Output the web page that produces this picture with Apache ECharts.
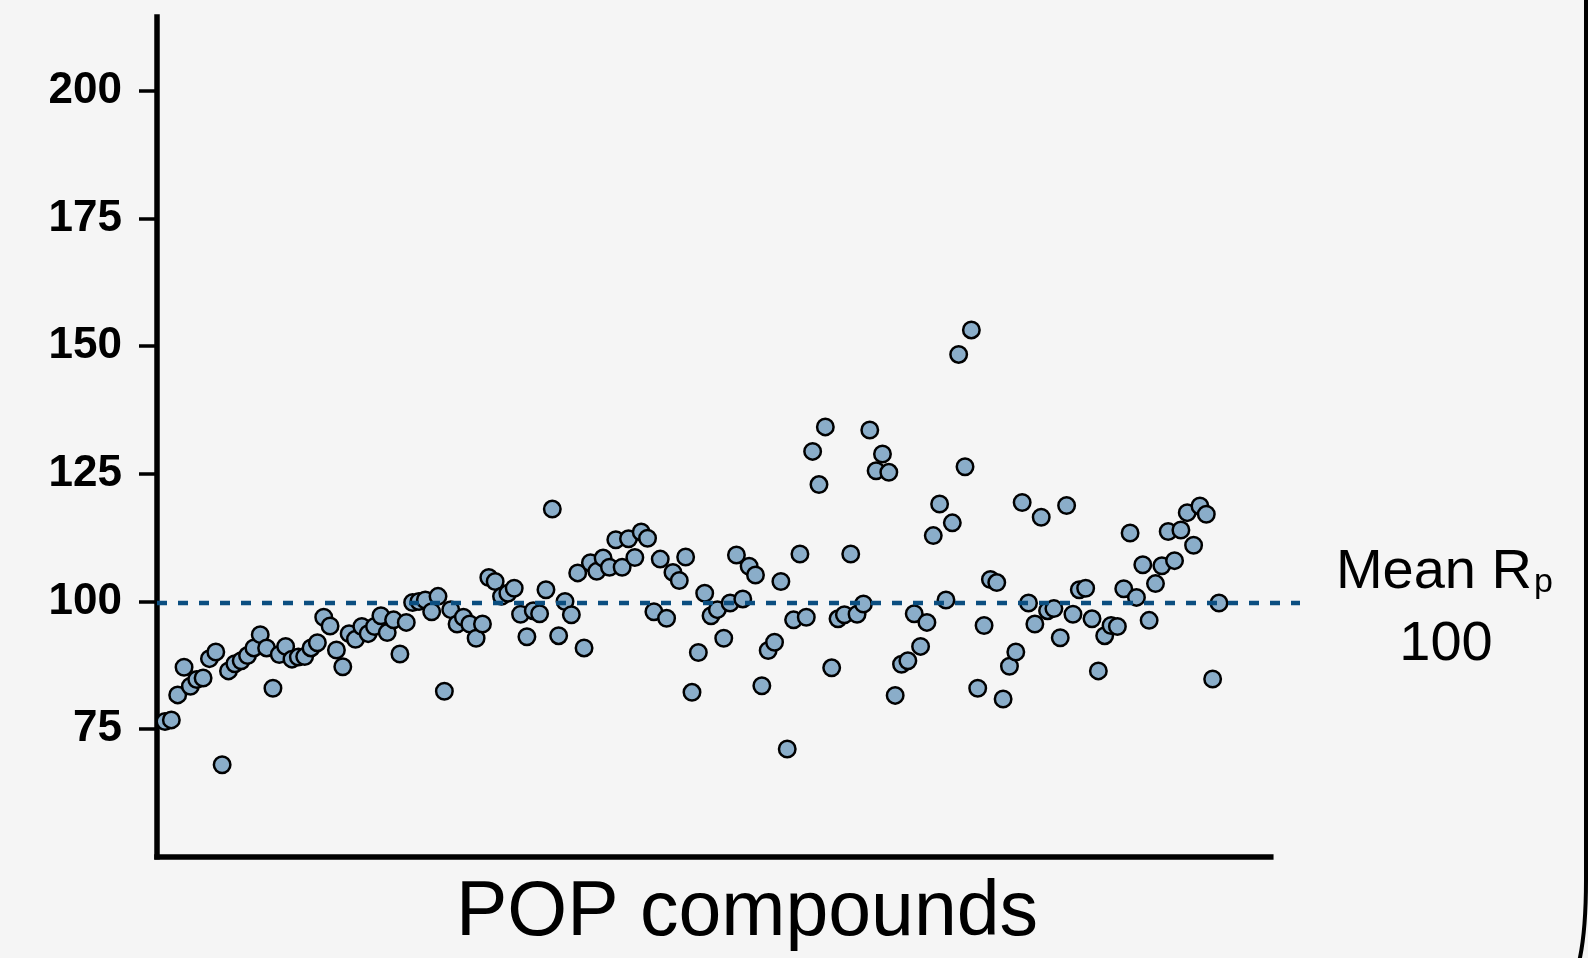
<!DOCTYPE html>
<html>
<head>
<meta charset="utf-8">
<title>POP compounds</title>
<script src="https://cdn.jsdelivr.net/npm/echarts@6/dist/echarts.min.js"></script>
<style>
  html, body { margin: 0; padding: 0; background: #f5f5f5; }
  #chart { width: 1588px; height: 958px; }
</style>
</head>
<body>
<div id="chart"></div>
<script>
  // Rp value of each POP compound, in plotted order (left to right)
  const rpValues = [
    76.5, 76.8, 81.7, 87.1, 83.4, 84.7, 85.0, 88.8, 90.1, 68.0,
    86.4, 87.8, 88.4, 89.4, 90.9, 93.5, 90.9, 83.0, 89.6, 91.2,
    88.7, 89.1, 89.2, 90.9, 91.9, 96.9, 95.2, 90.5, 87.2, 93.7,
    92.6, 95.1, 93.7, 95.1, 97.2, 93.9, 96.4, 89.7, 95.9, 99.8,
    100.0, 100.3, 98.0, 101.0, 82.4, 98.4, 95.6, 96.9, 95.6, 92.8,
    95.6, 104.7, 103.9, 101.0, 101.6, 102.6, 97.5, 93.1, 98.2, 97.6,
    102.3, 118.1, 93.3, 100.0, 97.4, 105.6, 90.9, 107.6, 105.9, 108.5,
    106.7, 112.1, 106.7, 112.3, 108.6, 113.6, 112.4, 98.0, 108.3, 96.7,
    105.7, 104.1, 108.7, 82.2, 90.0, 101.6, 97.2, 98.4, 92.8, 99.7,
    109.1, 100.5, 106.9, 105.2, 83.5, 90.4, 92.0, 103.9, 71.1, 96.4,
    109.3, 96.9, 129.4, 122.9, 134.2, 87.0, 96.6, 97.4, 109.3, 97.5,
    99.5, 133.6, 125.6, 128.9, 125.3, 81.6, 87.7, 88.4, 97.6, 91.2,
    95.9, 112.9, 119.1, 100.3, 115.4, 148.4, 126.4, 153.2, 83.0, 95.3,
    104.3, 103.7, 80.9, 87.3, 90.1, 119.4, 99.7, 95.6, 116.5, 98.2,
    98.6, 92.9, 118.8, 97.5, 102.3, 102.6, 96.6, 86.4, 93.3, 95.3,
    95.1, 102.5, 113.4, 100.8, 107.2, 96.3, 103.5, 107.0, 113.7, 108.0,
    114.0, 117.4, 111.0, 118.7, 117.1, 84.8, 99.7
  ]
  const yTicks = [75, 100, 125, 150, 175, 200]
  const meanRp = 99.7
  const meanLabel = '100'
  const xTitle = 'POP compounds'

  const points = rpValues.map((v, i) => [i, v])

  var myChart = echarts.init(document.getElementById('chart'))
  var option = {
    backgroundColor: '#f5f5f5',
    animation: false,
    grid: [
      // main plot
      { left: 157, top: 17, width: 1113.8, bottom: 101.3 },
      // same y scale, a bit wider, for the mean line
      { left: 157, top: 17, right: 288, bottom: 101.3 }
    ],
    xAxis: [
      {
        type: 'value',
        gridIndex: 0,
        min: -1.26,
        max: 174.16,
        axisLine: { onZero: false, lineStyle: { color: '#000', width: 5.5, cap: 'square' } },
        axisTick: { show: false },
        axisLabel: { show: false },
        splitLine: { show: false }
      },
      { type: 'value', gridIndex: 1, min: 0, max: 1, show: false }
    ],
    yAxis: [
      {
        type: 'value',
        gridIndex: 0,
        min: 50,
        max: 214.5,
        interval: 25,
        axisLine: { show: true, onZero: false, lineStyle: { color: '#000', width: 5.5, cap: 'square' } },
        axisTick: {
          show: true,
          length: 18,
          customValues: yTicks,
          lineStyle: { color: '#000', width: 3.5 }
        },
        axisLabel: {
          customValues: yTicks,
          margin: 35,
          color: '#000',
          fontFamily: 'Liberation Sans',
          fontWeight: 'bold',
          fontSize: 44
        },
        splitLine: { show: false }
      },
      { type: 'value', gridIndex: 1, min: 50, max: 214.5, show: false }
    ],
    series: [
      {
        type: 'scatter',
        xAxisIndex: 0,
        yAxisIndex: 0,
        data: points,
        symbol: 'circle',
        symbolSize: 16.5,
        itemStyle: { color: '#8aadc9', borderColor: '#000', borderWidth: 2.5, opacity: 1 },
        z: 2
      },
      {
        type: 'line',
        xAxisIndex: 1,
        yAxisIndex: 1,
        data: [[0, meanRp], [1, meanRp]],
        symbol: 'none',
        lineStyle: { color: '#0b4e80', width: 4.5, type: [10, 11] },
        z: 3
      }
    ],
    graphic: [
      {
        type: 'text',
        x: 747, y: 913.3,
        style: {
          text: xTitle,
          font: '77px "Liberation Sans"',
          fill: '#000',
          align: 'center',
          verticalAlign: 'middle'
        }
      },
      // "Mean Rp" label with subscript p
      {
        type: 'text',
        x: 1532, y: 572.3,
        style: {
          text: 'Mean R',
          font: '56px "Liberation Sans"',
          fill: '#000',
          align: 'right',
          verticalAlign: 'middle'
        }
      },
      {
        type: 'text',
        x: 1534, y: 582.2,
        style: {
          text: 'p',
          font: '34px "Liberation Sans"',
          fill: '#000',
          align: 'left',
          verticalAlign: 'middle'
        }
      },
      {
        type: 'text',
        x: 1446, y: 644.6,
        style: {
          text: meanLabel,
          font: '56px "Liberation Sans"',
          fill: '#000',
          align: 'center',
          verticalAlign: 'middle'
        }
      },
      // bracket edge on the right side of the figure
      {
        type: 'line',
        shape: { x1: 1586, y1: 0, x2: 1586, y2: 880 },
        style: { stroke: '#000', lineWidth: 4 }
      },
      {
        type: 'bezierCurve',
        shape: { x1: 1586, y1: 880, cpx1: 1586, cpy1: 930, x2: 1579.5, y2: 960 },
        style: { stroke: '#000', lineWidth: 4, fill: null }
      }
    ]
  }
  myChart.setOption(option)
</script>
</body>
</html>
